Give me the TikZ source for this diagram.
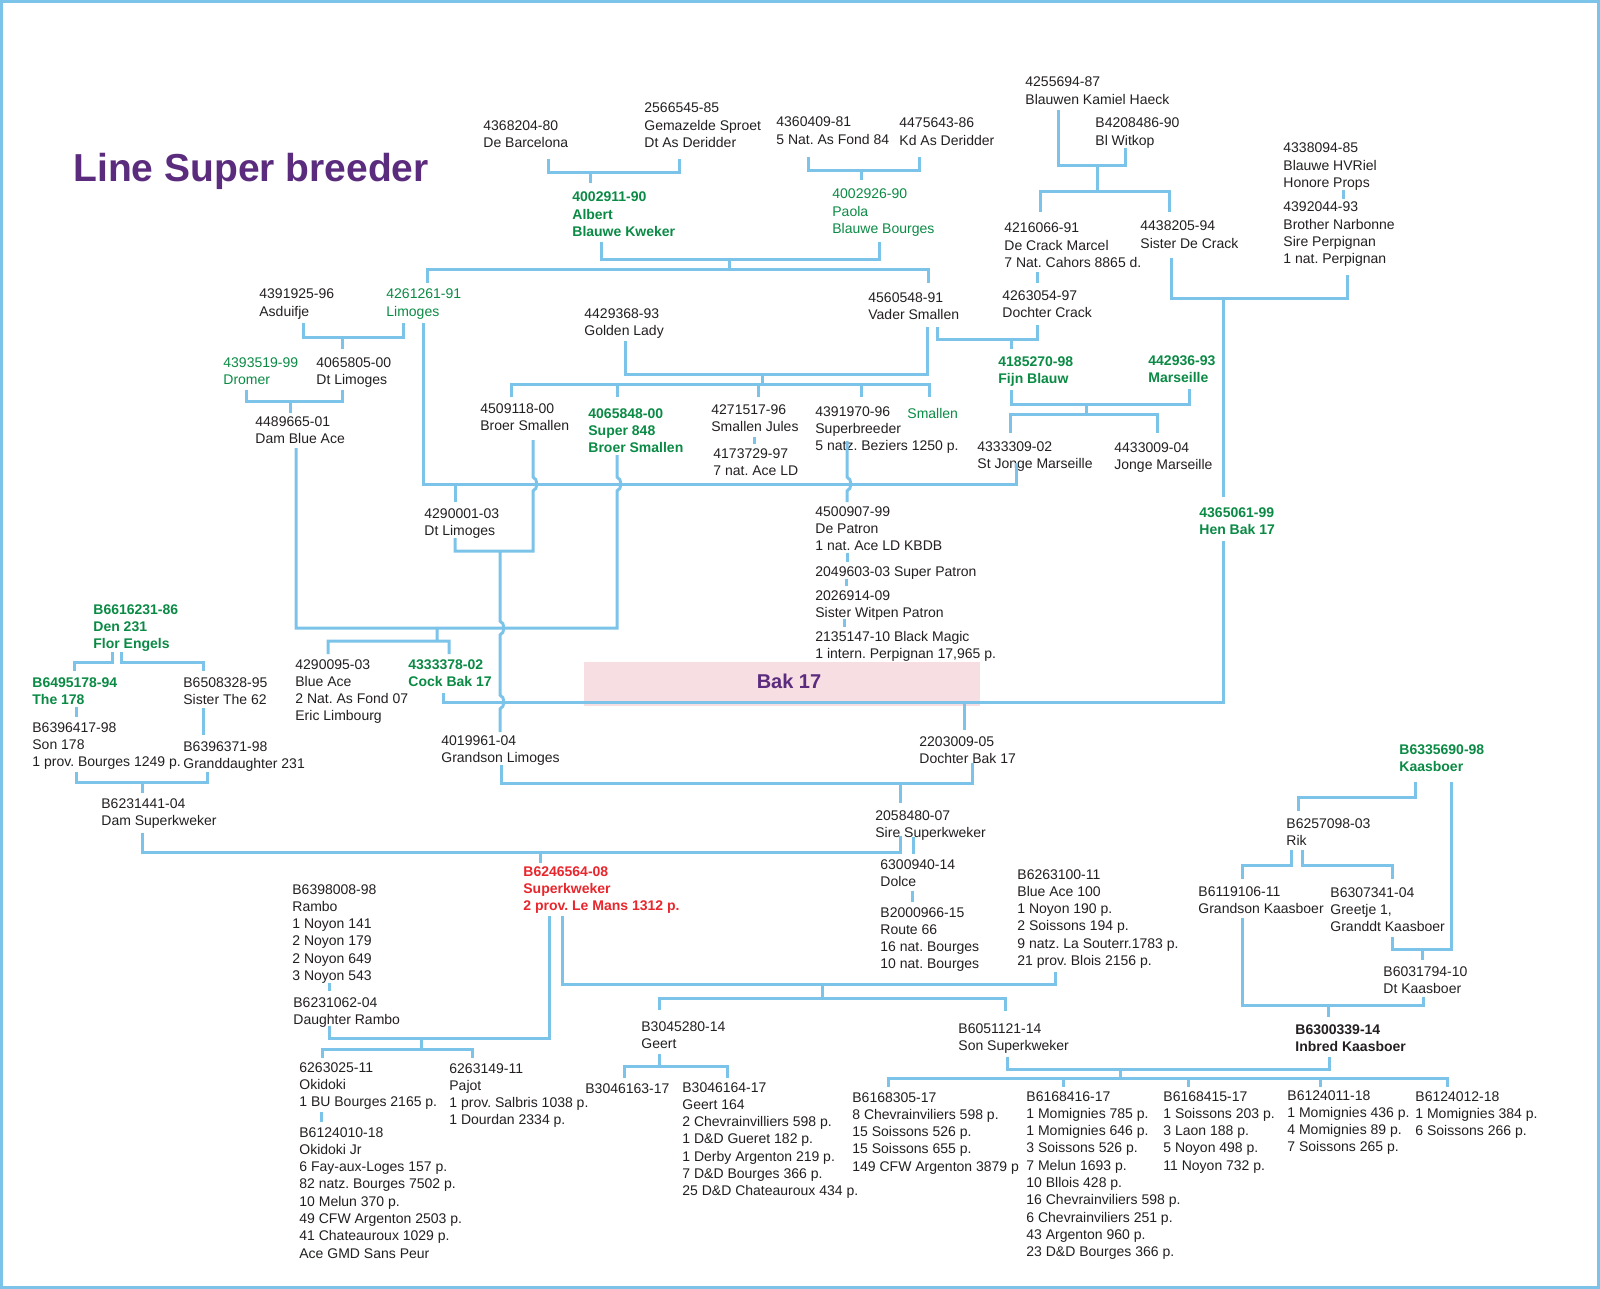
\documentclass[tikz,border=0pt]{standalone}
\usepackage{fontspec}
\setmainfont{Liberation Sans}
\usepackage{tikz}
\definecolor{ink}{HTML}{231F20}
\definecolor{grn}{HTML}{0A8A44}
\definecolor{rd}{HTML}{E8262C}
\definecolor{plum}{HTML}{5B2C7E}
\definecolor{lnk}{HTML}{7CC3E9}
\definecolor{bakpink}{HTML}{F6DEE3}
\frenchspacing
\newcommand{\pedlines}[1]{\begin{tabular}[t]{@{}l@{}}#1\end{tabular}}
\tikzset{
  pd/.style={anchor=base west, inner sep=0pt, text=ink, font=\fontsize{7}{8.65}\selectfont},
  pdg/.style={pd, text=grn},
  pdb/.style={pd, text=grn, font=\fontsize{7}{8.65}\selectfont\bfseries},
  pdr/.style={pd, text=rd, font=\fontsize{7}{8.65}\selectfont\bfseries},
  pdk/.style={pd, font=\fontsize{7}{8.65}\selectfont\bfseries},
  link/.style={draw=lnk, line width=1.5pt},
}
\begin{document}
\begin{tikzpicture}[x=0.5pt, y=-0.5pt]
            \useasboundingbox (0,0) rectangle (1600,1289);
            \draw[link] (1.5,1.5) rectangle (1598.5,1287.5);
            \fill[bakpink] (584,662) rectangle (980,706);
            \node[anchor=base west, inner sep=0pt, text=plum, font=\fontsize{19.5}{23}\selectfont\bfseries] (title) at (73,182) {Line Super breeder};
            \node[anchor=base, inner sep=0pt, text=plum, font=\fontsize{10}{12}\selectfont\bfseries] (bak) at (789,688) {Bak 17};
            \node[pd] (n4368204) at (483,130.5) {\pedlines{4368204-80\\De Barcelona}};
            \node[pd] (n2566545) at (644,113) {\pedlines{2566545-85\\Gemazelde Sproet\\Dt As Deridder}};
            \node[pd] (n4360409) at (776,127) {\pedlines{4360409-81\\5 Nat. As Fond 84}};
            \node[pd] (n4475643) at (899,128) {\pedlines{4475643-86\\Kd As Deridder}};
            \node[pd] (n4255694) at (1025,87) {\pedlines{4255694-87\\Blauwen Kamiel Haeck}};
            \node[pd] (nB4208486) at (1095,128) {\pedlines{B4208486-90\\Bl Witkop}};
            \node[pd] (n4338094) at (1283,153) {\pedlines{4338094-85\\Blauwe HVRiel\\Honore Props}};
            \node[pd] (n4392044) at (1283,212) {\pedlines{4392044-93\\Brother Narbonne\\Sire Perpignan\\1 nat. Perpignan}};
            \node[pdb] (n4002911) at (572,202) {\pedlines{4002911-90\\Albert\\Blauwe Kweker}};
            \node[pdg] (n4002926) at (832,199) {\pedlines{4002926-90\\Paola\\Blauwe Bourges}};
            \node[pd] (n4216066) at (1004,233) {\pedlines{4216066-91\\De Crack Marcel\\7 Nat. Cahors 8865 d.}};
            \node[pd] (n4438205) at (1140,231) {\pedlines{4438205-94\\Sister De Crack}};
            \node[pd] (n4391925) at (259,299) {\pedlines{4391925-96\\Asduifje}};
            \node[pdg] (n4261261) at (386,299) {\pedlines{4261261-91\\Limoges}};
            \node[pd] (n4429368) at (584,318) {\pedlines{4429368-93\\Golden Lady}};
            \node[pd] (n4560548) at (868,302) {\pedlines{4560548-91\\Vader Smallen}};
            \node[pd] (n4263054) at (1002,300) {\pedlines{4263054-97\\Dochter Crack}};
            \node[pdg] (n4393519) at (223,367) {\pedlines{4393519-99\\Dromer}};
            \node[pd] (n4065805) at (316,367) {\pedlines{4065805-00\\Dt Limoges}};
            \node[pdb] (n4185270) at (998,366) {\pedlines{4185270-98\\Fijn Blauw}};
            \node[pdb] (n442936) at (1148,365) {\pedlines{442936-93\\Marseille}};
            \node[pd] (n4489665) at (255,426) {\pedlines{4489665-01\\Dam Blue Ace}};
            \node[pd] (n4509118) at (480,413) {\pedlines{4509118-00\\Broer Smallen}};
            \node[pdb] (n4065848) at (588,418) {\pedlines{4065848-00\\Super 848\\Broer Smallen}};
            \node[pd] (n4271517) at (711,414) {\pedlines{4271517-96\\Smallen Jules}};
            \node[pd] (n4173729) at (713,458) {\pedlines{4173729-97\\7 nat. Ace LD}};
            \node[pd] (n4391970) at (815,416) {\pedlines{4391970-96\\Superbreeder\\5 natz. Beziers 1250 p.}};
            \node[pdg] (nsmallen) at (907,418) {Smallen};
            \node[pd] (n4333309) at (977,451) {\pedlines{4333309-02\\St Jonge Marseille}};
            \node[pd] (n4433009) at (1114,452) {\pedlines{4433009-04\\Jonge Marseille}};
            \node[pd] (n4290001) at (424,518) {\pedlines{4290001-03\\Dt Limoges}};
            \node[pd] (n4500907) at (815,516) {\pedlines{4500907-99\\De Patron\\1 nat. Ace LD KBDB}};
            \node[pd] (n2049603) at (815,576) {2049603-03 Super Patron};
            \node[pd] (n2026914) at (815,600) {\pedlines{2026914-09\\Sister Witpen Patron}};
            \node[pd] (n2135147) at (815,641) {\pedlines{2135147-10 Black Magic\\1 intern. Perpignan 17,965 p.}};
            \node[pdb] (n4365061) at (1199,517) {\pedlines{4365061-99\\Hen Bak 17}};
            \node[pdb] (nB6616231) at (93,614) {\pedlines{B6616231-86\\Den 231\\Flor Engels}};
            \node[pdb] (nB6495178) at (32,687) {\pedlines{B6495178-94\\The 178}};
            \node[pd] (nB6508328) at (183,687) {\pedlines{B6508328-95\\Sister The 62}};
            \node[pd] (nB6396417) at (32,732) {\pedlines{B6396417-98\\Son 178\\1 prov. Bourges 1249 p.}};
            \node[pd] (nB6396371) at (183,751) {\pedlines{B6396371-98\\Granddaughter 231}};
            \node[pd] (n4290095) at (295,669) {\pedlines{4290095-03\\Blue Ace\\2 Nat. As Fond 07\\Eric Limbourg}};
            \node[pdb] (n4333378) at (408,669) {\pedlines{4333378-02\\Cock Bak 17}};
            \node[pd] (n4019961) at (441,745) {\pedlines{4019961-04\\Grandson Limoges}};
            \node[pd] (n2203009) at (919,746) {\pedlines{2203009-05\\Dochter Bak 17}};
            \node[pd] (nB6231441) at (101,808) {\pedlines{B6231441-04\\Dam Superkweker}};
            \node[pd] (n2058480) at (875,820) {\pedlines{2058480-07\\Sire Superkweker}};
            \node[pdb] (nB6335690) at (1399,754) {\pedlines{B6335690-98\\Kaasboer}};
            \node[pd] (nB6257098) at (1286,828) {\pedlines{B6257098-03\\Rik}};
            \node[pdr] (nB6246564) at (523,876) {\pedlines{B6246564-08\\Superkweker\\2 prov. Le Mans 1312 p.}};
            \node[pd] (nB6398008) at (292,894) {\pedlines{B6398008-98\\Rambo\\1 Noyon 141\\2 Noyon 179\\2 Noyon 649\\3 Noyon 543}};
            \node[pd] (nB6231062) at (293,1007) {\pedlines{B6231062-04\\Daughter Rambo}};
            \node[pd] (n6263025) at (299,1072) {\pedlines{6263025-11\\Okidoki\\1 BU Bourges 2165 p.}};
            \node[pd] (nB6124010) at (299,1137) {\pedlines{B6124010-18\\Okidoki Jr\\6 Fay-aux-Loges 157 p.\\82 natz. Bourges 7502 p.\\10 Melun 370 p.\\49 CFW Argenton 2503 p.\\41 Chateauroux 1029 p.\\Ace GMD Sans Peur}};
            \node[pd] (n6263149) at (449,1073) {\pedlines{6263149-11\\Pajot\\1 prov. Salbris 1038 p.\\1 Dourdan 2334 p.}};
            \node[pd] (nB3045280) at (641,1031) {\pedlines{B3045280-14\\Geert}};
            \node[pd] (nB3046163) at (585,1093) {B3046163-17};
            \node[pd] (nB3046164) at (682,1092) {\pedlines{B3046164-17\\Geert 164\\2 Chevrainvilliers 598 p.\\1 D\&D Gueret 182 p.\\1 Derby Argenton 219 p.\\7 D\&D Bourges 366 p.\\25 D\&D Chateauroux 434 p.}};
            \node[pd] (n6300940) at (880,869) {\pedlines{6300940-14\\Dolce}};
            \node[pd] (nB2000966) at (880,917) {\pedlines{B2000966-15\\Route 66\\16 nat. Bourges\\10 nat. Bourges}};
            \node[pd] (nB6263100) at (1017,879) {\pedlines{B6263100-11\\Blue Ace 100\\1 Noyon 190 p.\\2 Soissons 194 p.\\9 natz. La Souterr.1783 p.\\21 prov. Blois 2156 p.}};
            \node[pd] (nB6051121) at (958,1033) {\pedlines{B6051121-14\\Son Superkweker}};
            \node[pd] (nB6168305) at (852,1102) {\pedlines{B6168305-17\\8 Chevrainviliers 598 p.\\15 Soissons 526 p.\\15 Soissons 655 p.\\149 CFW Argenton 3879 p}};
            \node[pd] (nB6168416) at (1026,1101) {\pedlines{B6168416-17\\1 Momignies 785 p.\\1 Momignies 646 p.\\3 Soissons 526 p.\\7 Melun 1693 p.\\10 Bllois 428 p.\\16 Chevrainviliers 598 p.\\6 Chevrainviliers 251 p.\\43 Argenton 960 p.\\23 D\&D Bourges 366 p.}};
            \node[pd] (nB6168415) at (1163,1101) {\pedlines{B6168415-17\\1 Soissons 203 p.\\3 Laon 188 p.\\5 Noyon 498 p.\\11 Noyon 732 p.}};
            \node[pd] (nB6124011) at (1287,1100) {\pedlines{B6124011-18\\1 Momignies 436 p.\\4 Momignies 89 p.\\7 Soissons 265 p.}};
            \node[pd] (nB6124012) at (1415,1101) {\pedlines{B6124012-18\\1 Momignies 384 p.\\6 Soissons 266 p.}};
            \node[pd] (nB6119106) at (1198,896) {\pedlines{B6119106-11\\Grandson Kaasboer}};
            \node[pd] (nB6307341) at (1330,897) {\pedlines{B6307341-04\\Greetje 1,\\Granddt Kaasboer}};
            \node[pd] (nB6031794) at (1383,976) {\pedlines{B6031794-10\\Dt Kaasboer}};
            \node[pdk] (nB6300339) at (1295,1034) {\pedlines{B6300339-14\\Inbred Kaasboer}};
            \coordinate (k1a) at (548,159); \coordinate (k1b) at (679,159); \coordinate (k1j) at (590,173); \coordinate (k1c) at (590,183);
            \coordinate (k2a) at (808,157); \coordinate (k2b) at (919,157); \coordinate (k2j) at (861,171); \coordinate (k2c) at (861,180);
            \coordinate (k3a) at (1058,110); \coordinate (k3b) at (1125,148); \coordinate (k3j) at (1097,166); \coordinate (k3c) at (1097,192); \coordinate (k3d) at (1040,212); \coordinate (k3e) at (1169,212);
            \coordinate (k4a) at (601,242); \coordinate (k4b) at (879,242); \coordinate (k4j) at (729,260); \coordinate (k4c) at (729,270); \coordinate (k4d) at (427,283); \coordinate (k4e) at (928,283);
            \coordinate (k5a) at (1037,272); \coordinate (k5c) at (1037,283);
            \coordinate (k6a) at (1343,190); \coordinate (k6c) at (1343,199);
            \coordinate (k7a) at (1171,258); \coordinate (k7b) at (1347,275); \coordinate (k7j) at (1223,298); \coordinate (k7c) at (1223,497);
            \coordinate (k8a) at (303,323); \coordinate (k8b) at (403,323); \coordinate (k8j) at (342,337); \coordinate (k8c) at (342,349);
            \coordinate (k9a) at (246,390); \coordinate (k9b) at (342,390); \coordinate (k9j) at (290,401); \coordinate (k9c) at (290,413);
            \coordinate (k10a) at (937,327); \coordinate (k10b) at (1037,325); \coordinate (k10j) at (1011,339); \coordinate (k10c) at (1011,349);
            \coordinate (k11a) at (625,341); \coordinate (k11b) at (927,327); \coordinate (k11j) at (762,374); \coordinate (k11c) at (762,384);
            \coordinate (k11d) at (511,397); \coordinate (k11e) at (617,397); \coordinate (k11f) at (758,397); \coordinate (k11g) at (861,397); \coordinate (k11h) at (929,397);
            \coordinate (k12a) at (1011,390); \coordinate (k12b) at (1189,389); \coordinate (k12j) at (1086,404); \coordinate (k12c) at (1086,414); \coordinate (k12d) at (1010,433); \coordinate (k12e) at (1157,433);
            \coordinate (k13a) at (423,323); \coordinate (k13b) at (1016,463); \coordinate (k13j) at (455,484); \coordinate (k13c) at (455,502);
            \coordinate (k14a) at (455,538); \coordinate (k14b) at (533,440); \coordinate (k14j) at (500,551); \coordinate (k14c) at (500,732);
            \coordinate (k15a) at (296,448); \coordinate (k15b) at (617,455); \coordinate (k15j) at (437,628); \coordinate (k15c) at (437,641); \coordinate (k15d) at (328,654); \coordinate (k15e) at (449,654);
            \coordinate (k16a) at (847,441); \coordinate (k16c) at (847,502);
            \coordinate (k17a) at (443,693); \coordinate (k17b) at (1223,541); \coordinate (k17j) at (964,702); \coordinate (k17c) at (964,730);
            \coordinate (k18a) at (501,765); \coordinate (k18b) at (972,763); \coordinate (k18j) at (900,783); \coordinate (k18c) at (900,803);
            \coordinate (k19a) at (142,833); \coordinate (k19b) at (900,836); \coordinate (k19j) at (540,852); \coordinate (k19c) at (540,863);
            \coordinate (k20a) at (913,837); \coordinate (k20c) at (913,854);
            \coordinate (k21a) at (912,891); \coordinate (k21c) at (912,902);
            \coordinate (k22a) at (112,652); \coordinate (k22b) at (74,671);
            \coordinate (k23a) at (121,652); \coordinate (k23b) at (203,671);
            \coordinate (k24a) at (76,707); \coordinate (k24c) at (76,717);
            \coordinate (k25a) at (203,708); \coordinate (k25c) at (203,735);
            \coordinate (k26a) at (76,772); \coordinate (k26b) at (207,772); \coordinate (k26j) at (142,782); \coordinate (k26c) at (142,793);
            \coordinate (k27a) at (329,983); \coordinate (k27c) at (329,991);
            \coordinate (k28a) at (321,1112); \coordinate (k28c) at (321,1122);
            \coordinate (k29a) at (329,1026); \coordinate (k29b) at (549,916); \coordinate (k29j) at (421,1038); \coordinate (k29c) at (421,1049); \coordinate (k29d) at (322,1058); \coordinate (k29e) at (472,1058);
            \coordinate (k30a) at (562,916); \coordinate (k30b) at (1055,972); \coordinate (k30j) at (822,984); \coordinate (k30c) at (822,998); \coordinate (k30d) at (659,1010); \coordinate (k30e) at (1005,1011);
            \coordinate (k31a) at (659,1054); \coordinate (k31j) at (659,1066); \coordinate (k31d) at (624,1078); \coordinate (k31e) at (727,1078);
            \coordinate (k32a) at (1007,1057); \coordinate (k32b) at (1329,1057); \coordinate (k32j) at (1120,1069); \coordinate (k32c) at (1120,1078);
            \coordinate (k32d) at (888,1087); \coordinate (k32e) at (1063,1087); \coordinate (k32f) at (1188,1087); \coordinate (k32g) at (1320,1087); \coordinate (k32h) at (1447,1087);
            \coordinate (k33a) at (1415,782); \coordinate (k33b) at (1298,811);
            \coordinate (k34a) at (1392,937); \coordinate (k34b) at (1451,782); \coordinate (k34j) at (1422,949); \coordinate (k34c) at (1422,960);
            \coordinate (k35a) at (1291,850); \coordinate (k35b) at (1242,879);
            \coordinate (k36a) at (1302,850); \coordinate (k36b) at (1392,879);
            \coordinate (k37a) at (1242,918); \coordinate (k37b) at (1423,997); \coordinate (k37j) at (1328,1005); \coordinate (k37c) at (1328,1017);
            \coordinate (k38a) at (754,437); \coordinate (k38c) at (754,444);
            \coordinate (k39a) at (847,553); \coordinate (k39c) at (847,562);
            \coordinate (k40a) at (846,579); \coordinate (k40c) at (846,586);
            \coordinate (k41a) at (844,619); \coordinate (k41c) at (844,627);
            \draw[link] (k1a) |- (k1j) -| (k1b) (k1j) -- (k1c);
            \draw[link] (k2a) |- (k2j) -| (k2b) (k2j) -- (k2c);
            \draw[link] (k3a) |- (k3j) -| (k3b) (k3j) -- (k3c) (k3d) |- (k3c) -| (k3e);
            \draw[link] (k4a) |- (k4j) -| (k4b) (k4j) -- (k4c) (k4d) |- (k4c) -| (k4e);
            \draw[link] (k5a) -- (k5c);
            \draw[link] (k6a) -- (k6c);
            \draw[link] (k7a) |- (k7j) -| (k7b) (k7j) -- (k7c);
            \draw[link] (k8a) |- (k8j) -| (k8b) (k8j) -- (k8c);
            \draw[link] (k9a) |- (k9j) -| (k9b) (k9j) -- (k9c);
            \draw[link] (k10a) |- (k10j) -| (k10b) (k10j) -- (k10c);
            \draw[link] (k11a) |- (k11j) -| (k11b) (k11j) -- (k11c) (k11d) |- (k11c) -| (k11h) (k11e) -- (k11e |- k11c) (k11f) -- (k11f |- k11c) (k11g) -- (k11g |- k11c);
            \draw[link] (k12a) |- (k12j) -| (k12b) (k12j) -- (k12c) (k12d) |- (k12c) -| (k12e);
            \draw[link] (k13a) |- (k13j) -| (k13b) (k13j) -- (k13c);
            \draw[link] (k14b) -- ++(0,37) to[bend left=70] ++(0,14) |- (k14j) (k14a) |- (k14j) -- ++(0,70) to[bend left=70] ++(0,14) -- ++(0,60) to[bend left=70] ++(0,14) -- (k14c);
            \draw[link] (k15b) -- ++(0,22) to[bend left=70] ++(0,14) |- (k15j) (k15a) |- (k15j) -- (k15c) (k15d) |- (k15c) -| (k15e);
            \draw[link] (k16a) -- ++(0,36) to[bend left=70] ++(0,14) -- (k16c);
            \draw[link] (k17a) |- (k17j) -| (k17b) (k17j) -- (k17c);
            \draw[link] (k18a) |- (k18j) -| (k18b) (k18j) -- (k18c);
            \draw[link] (k19a) |- (k19j) -| (k19b) (k19j) -- (k19c);
            \draw[link] (k20a) -- (k20c);
            \draw[link] (k21a) -- (k21c);
            \draw[link] (k22a) -- ++(0,10) -| (k22b);
            \draw[link] (k23a) -- ++(0,10) -| (k23b);
            \draw[link] (k24a) -- (k24c);
            \draw[link] (k25a) -- (k25c);
            \draw[link] (k26a) |- (k26j) -| (k26b) (k26j) -- (k26c);
            \draw[link] (k27a) -- (k27c);
            \draw[link] (k28a) -- (k28c);
            \draw[link] (k29a) |- (k29j) -| (k29b) (k29j) -- (k29c) (k29d) |- (k29c) -| (k29e);
            \draw[link] (k30a) |- (k30j) -| (k30b) (k30j) -- (k30c) (k30d) |- (k30c) -| (k30e);
            \draw[link] (k31a) -- (k31j) (k31d) |- (k31j) -| (k31e);
            \draw[link] (k32a) |- (k32j) -| (k32b) (k32j) -- (k32c) (k32d) |- (k32c) -| (k32h) (k32e) -- (k32e |- k32c) (k32f) -- (k32f |- k32c) (k32g) -- (k32g |- k32c);
            \draw[link] (k33a) -- ++(0,15) -| (k33b);
            \draw[link] (k34a) |- (k34j) -| (k34b) (k34j) -- (k34c);
            \draw[link] (k35a) -- ++(0,15) -| (k35b);
            \draw[link] (k36a) -- ++(0,15) -| (k36b);
            \draw[link] (k37a) |- (k37j) -| (k37b) (k37j) -- (k37c);
            \draw[link] (k38a) -- (k38c);
            \draw[link] (k39a) -- (k39c);
            \draw[link] (k40a) -- (k40c);
            \draw[link] (k41a) -- (k41c);
        \end{tikzpicture}
\end{document}
